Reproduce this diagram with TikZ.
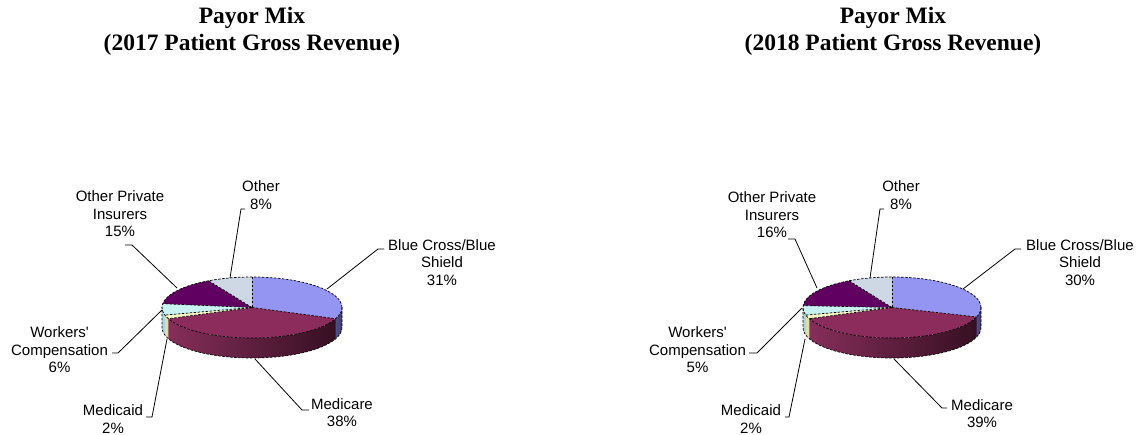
\documentclass[tikz,border=0pt]{standalone}
\usepackage{fontspec}
\setmainfont{Liberation Serif}
\setsansfont{Liberation Sans}[Ligatures=TeXOff]
\definecolor{bcC}{RGB}{148,148,242}
\definecolor{mcC}{RGB}{140,44,92}
\definecolor{mdC}{RGB}{246,246,196}
\definecolor{wcC}{RGB}{200,242,242}
\definecolor{opC}{RGB}{96,0,96}
\definecolor{otC}{RGB}{206,216,228}
\definecolor{bcS}{RGB}{78,78,138}
\definecolor{mcL}{RGB}{134,46,90}
\definecolor{mcR}{RGB}{54,15,34}
\definecolor{mdS}{RGB}{222,222,168}
\definecolor{wcS}{RGB}{172,214,218}
\newcommand\prx{90}
\newcommand\pry{30.5}
\newcommand\pdep{20}
\newcommand\pietop[3]{\fill[#3] (0,0) -- (#1:\prx pt and \pry pt) arc[start angle=#1,end angle=#2,x radius=\prx pt,y radius=\pry pt] -- cycle;}
\newcommand\pieside[3]{\shade[#3] (#1:\prx pt and \pry pt) arc[start angle=#1,end angle=#2,x radius=\prx pt,y radius=\pry pt] -- ++(0,-\pdep pt) arc[start angle=#2,end angle=#1,x radius=\prx pt,y radius=\pry pt] -- cycle;}
\newcommand\pieradial[1]{\draw[pedge] (0,0) -- (#1:\prx pt and \pry pt);}
\newcommand\pieoutline{%
  \draw[pedge] (0,0) ellipse [x radius=\prx pt, y radius=\pry pt];
  \draw[pedge] (0:\prx pt and \pry pt) -- ++(0,-\pdep pt) arc[start angle=0,end angle=-180,x radius=\prx pt,y radius=\pry pt] -- ++(0,\pdep pt);}
\tikzset{
  lbl/.style={font=\sffamily\fontsize{15}{17.5}\selectfont, align=center, inner sep=0pt},
  ttl/.style={font=\bfseries\fontsize{23.5}{27}\selectfont, align=center, inner sep=0pt},
  leader/.style={line width=0.8pt, black},
  pedge/.style={line width=0.7pt, dash pattern=on 2.5pt off 1.5pt, black},
}
\begin{document}
\begin{tikzpicture}[x=1pt,y=1pt]
\useasboundingbox (0,0) rectangle (1138,-435);
\fill[white] (0,0) rectangle (1138,-435);
% ---------------- 2017 ----------------
\node[ttl] (t1) at (252,-31) {Payor Mix\\(2017 Patient Gross Revenue)};
\begin{scope}[shift={(252,-307.5)}]
  \pieside{0}{-21.6}{left color=bcS, right color=bcS!80!black}
  \pieside{-21.6}{-158.4}{left color=mcL, right color=mcR}
  \pieside{-158.4}{-165.6}{left color=mdS, right color=mdS}
  \pieside{-165.6}{-180}{left color=wcS, right color=wcS}
  \pietop{90}{-21.6}{bcC}
  \pietop{-21.6}{-158.4}{mcC}
  \pietop{-158.4}{-165.6}{mdC}
  \pietop{-165.6}{-187.2}{wcC}
  \pietop{-187.2}{-241.2}{opC}
  \pietop{-241.2}{-270}{otC}
  \pieradial{90}\pieradial{-21.6}\pieradial{-158.4}\pieradial{-165.6}\pieradial{-187.2}\pieradial{-241.2}
  \pieoutline
\end{scope}
\node[lbl] (a1) at (261,-195) {Other\\8\%};
\node[lbl] (a2) at (120,-214) {Other Private\\Insurers\\15\%};
\node[lbl] (a3) at (442,-262.5) {Blue Cross/Blue\\Shield\\31\%};
\node[lbl] (a4) at (59.5,-350) {Workers'\\Compensation\\6\%};
\node[lbl] (a5) at (113,-419) {Medicaid\\2\%};
\node[lbl] (a6) at (342,-412.5) {Medicare\\38\%};
\coordinate (pa1) at (230,-278); \coordinate (ka1) at (241,-209); \coordinate (ea1) at (245,-209);
\coordinate (pa2) at (177,-288); \coordinate (ka2) at (132,-245); \coordinate (ea2) at (125,-245);
\coordinate (pa3) at (327,-289); \coordinate (ka3) at (378,-249); \coordinate (ea3) at (384,-249);
\coordinate (pa4) at (162,-310); \coordinate (ka4) at (118,-353); \coordinate (ea4) at (112,-353);
\coordinate (pa5) at (167,-339); \coordinate (ka5) at (152,-417); \coordinate (ea5) at (146,-417);
\coordinate (pa6) at (255,-359); \coordinate (ka6) at (302,-410); \coordinate (ea6) at (309,-410);
\foreach \i in {1,...,6} {\draw[leader] (pa\i) -- (ka\i) -- (ea\i);}
% ---------------- 2018 ----------------
\node[ttl] (t2) at (893,-31) {Payor Mix\\(2018 Patient Gross Revenue)};
\renewcommand\prx{89}
\begin{scope}[shift={(892,-307.5)}]
  \pieside{0}{-18}{left color=bcS, right color=bcS!80!black}
  \pieside{-18}{-158.4}{left color=mcL, right color=mcR}
  \pieside{-158.4}{-165.6}{left color=mdS, right color=mdS}
  \pieside{-165.6}{-180}{left color=wcS, right color=wcS}
  \pietop{90}{-18}{bcC}
  \pietop{-18}{-158.4}{mcC}
  \pietop{-158.4}{-165.6}{mdC}
  \pietop{-165.6}{-183.6}{wcC}
  \pietop{-183.6}{-241.2}{opC}
  \pietop{-241.2}{-270}{otC}
  \pieradial{90}\pieradial{-18}\pieradial{-158.4}\pieradial{-165.6}\pieradial{-183.6}\pieradial{-241.2}
  \pieoutline
\end{scope}
\node[lbl] (b1) at (901,-195) {Other\\8\%};
\node[lbl] (b2) at (772,-215) {Other Private\\Insurers\\16\%};
\node[lbl] (b3) at (1080,-262.5) {Blue Cross/Blue\\Shield\\30\%};
\node[lbl] (b4) at (697.5,-350) {Workers'\\Compensation\\5\%};
\node[lbl] (b5) at (751,-419) {Medicaid\\2\%};
\node[lbl] (b6) at (982,-413.5) {Medicare\\39\%};
\coordinate (pb1) at (870,-278); \coordinate (kb1) at (880,-209); \coordinate (eb1) at (884,-209);
\coordinate (pb2) at (817,-288); \coordinate (kb2) at (795,-239); \coordinate (eb2) at (788,-239);
\coordinate (pb3) at (963,-289); \coordinate (kb3) at (1015,-249); \coordinate (eb3) at (1021,-249);
\coordinate (pb4) at (802,-308); \coordinate (kb4) at (757,-353); \coordinate (eb4) at (749,-353);
\coordinate (pb5) at (805,-339); \coordinate (kb5) at (789,-417); \coordinate (eb5) at (785,-417);
\coordinate (pb6) at (894,-359); \coordinate (kb6) at (942,-408); \coordinate (eb6) at (947,-408);
\foreach \i in {1,...,6} {\draw[leader] (pb\i) -- (kb\i) -- (eb\i);}
\end{tikzpicture}
\end{document}
